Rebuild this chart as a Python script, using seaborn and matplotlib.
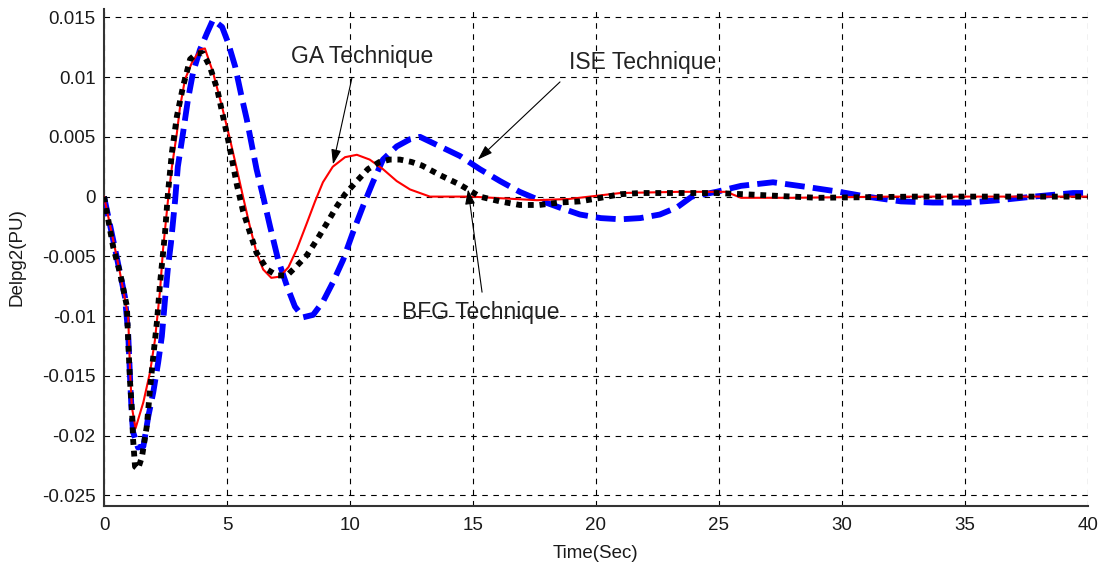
import matplotlib
matplotlib.use("Agg")
import matplotlib.pyplot as plt
import seaborn as sns
import pandas as pd

# ----------------------------------------------------------
# data (time in s, Delpg2 in PU)
# ----------------------------------------------------------

ga_time = [0, 0.45, 0.65, 0.98, 1.06, 1.13, 1.28, 1.6, 1.87, 2.07, 2.28, 2.4,
           2.6, 2.76, 2.96, 3.09, 3.29, 3.57, 3.9, 4.1, 4.43, 4.8, 5.12, 5.4,
           5.65, 5.93, 6.2, 6.47, 6.8, 7.15, 7.5, 7.84, 8.25, 8.58, 8.9,
           9.3, 9.8, 10.28, 10.8, 11.34, 11.9, 12.44, 13.25, 14.9, 17.6, 18.9,
           21.0, 23.4, 25.3, 25.9, 28.0, 32.0, 36.0, 40.0]
ga_delpg = [0, -0.0044, -0.0064, -0.0100, -0.0147, -0.0176, -0.0194, -0.0172,
            -0.0147, -0.0120, -0.0078, -0.0044, -0.0003, 0.0025, 0.0053, 0.0075,
            0.0098, 0.0112, 0.0123, 0.0124, 0.0104, 0.0075, 0.0048, 0.0023,
            0.0, -0.0025, -0.0047, -0.0061, -0.0068, -0.0067, -0.0059,
            -0.0044, -0.0022, -0.0004, 0.0012, 0.0025, 0.0033, 0.0035, 0.0031,
            0.0023, 0.0013, 0.0006, 0.0, 0.0, -0.0003, -0.0002, 0.0003, 0.0004,
            0.0004, -0.0001, -0.0001, 0.0, 0.0, 0.0]

bfg_time = [0, 0.37, 0.65, 0.93, 0.98, 1.06, 1.14, 1.18, 1.26, 1.38, 1.54, 1.74,
            1.87, 2.0, 2.15, 2.28, 2.4, 2.48, 2.6, 2.76, 2.96, 3.21, 3.5, 3.78,
            4.02, 4.3, 4.6, 4.84, 5.04, 5.25, 5.4, 5.65, 5.93, 6.2, 6.63, 7.03,
            7.44, 7.84, 8.25, 8.66, 9.07, 9.47, 9.8, 10.28, 10.73, 11.2, 11.63,
            12.03, 12.5, 12.93, 13.66, 14.47, 15.28, 16.1, 16.9, 17.7, 18.5,
            19.35, 20.2, 21.0, 21.8, 22.6, 23.4, 24.9, 26.0, 29.0, 33.0, 37.0, 40.0]
bfg_delpg = [0, -0.0042, -0.0064, -0.0092, -0.0120, -0.0156, -0.0180, -0.0203,
             -0.0226, -0.0228, -0.0218, -0.0192, -0.0161, -0.0134, -0.0105,
             -0.0072, -0.0047, -0.0030, 0.0003, 0.0037, 0.0067, 0.0092, 0.0115,
             0.0120, 0.0120, 0.0109, 0.0090, 0.0067, 0.0048, 0.0026, 0.0010,
             -0.0012, -0.0030, -0.0047, -0.0061, -0.0066, -0.0066, -0.0058,
             -0.0049, -0.0036, -0.0022, -0.0008, 0.0002, 0.0013, 0.0023, 0.0029,
             0.0031, 0.0031, 0.0029, 0.0026, 0.0018, 0.0010, 0.0, -0.0004,
             -0.0007, -0.0007, -0.0005, -0.0004, -0.0001, 0.0002, 0.0003, 0.0003,
             0.0003, 0.0003, 0.0002, -0.0001, 0.0, 0.0, 0.0]

ise_time = [0, 0.45, 0.85, 0.98, 1.06, 1.13, 1.18, 1.38, 1.6, 1.8, 2.0, 2.2,
            2.35, 2.48, 2.6, 2.72, 2.89, 3.0, 3.21, 3.41, 3.62, 3.9, 4.19, 4.43,
            4.8, 5.04, 5.33, 5.6, 5.8, 6.2, 6.47, 6.75, 7.08, 7.44, 7.76, 8.1,
            8.5, 8.9, 9.3, 9.72, 10.12, 10.53, 10.93, 11.34, 11.9, 12.44, 12.85,
            13.66, 14.47, 15.28, 16.1, 16.9, 17.7, 18.5, 19.35, 20.2, 21.0, 21.8,
            22.6, 23.3, 23.9, 24.9, 25.9, 27.2, 28.6, 29.9, 31.0, 32.4, 33.7,
            35.1, 36.4, 37.8, 39.4, 40.0]
ise_delpg = [0, -0.0044, -0.0084, -0.0114, -0.0153, -0.0184, -0.0197, -0.0210,
             -0.0209, -0.0184, -0.0164, -0.0139, -0.0117, -0.0086, -0.0059,
             -0.0039, -0.0003, 0.0025, 0.0053, 0.0081, 0.0104, 0.0123, 0.0137,
             0.0148, 0.0142, 0.0129, 0.0109, 0.0083, 0.0065, 0.0023, 0.0,
             -0.0025, -0.0053, -0.0075, -0.0092, -0.0101, -0.0099, -0.0088,
             -0.0072, -0.0053, -0.0030, -0.0008, 0.0012, 0.0031, 0.0042, 0.0048,
             0.0050, 0.0042, 0.0034, 0.0023, 0.0013, 0.0004, -0.0003, -0.0009,
             -0.0015, -0.0018, -0.0019, -0.0018, -0.0015, -0.0009, 0.0, 0.0004,
             0.0009, 0.0012, 0.0008, 0.0004, 0.0, -0.0004, -0.0005, -0.0005,
             -0.0003, 0.0, 0.0003, 0.0003]

x_ticks = [0, 5, 10, 15, 20, 25, 30, 35, 40]
y_ticks = [-0.025, -0.02, -0.015, -0.01, -0.005, 0, 0.005, 0.01, 0.015]
y_tick_labels = ["-0.025", "-0.02", "-0.015", "-0.01", "-0.005", "0",
                 "0.005", "0.01", "0.015"]


def main():
    sns.set_style("white")
    plt.rcParams['font.family'] = ['Liberation Sans', 'DejaVu Sans']

    fig = plt.figure(figsize=(11.01, 5.65), dpi=100)
    ax = fig.add_axes([0.0945, 0.1044, 0.8935, 0.8796])

    ga = pd.DataFrame({"t": ga_time, "v": ga_delpg})
    bfg = pd.DataFrame({"t": bfg_time, "v": bfg_delpg})
    ise = pd.DataFrame({"t": ise_time, "v": ise_delpg})

    sns.lineplot(data=ise, x="t", y="v", ax=ax, color="#0000ff", lw=4.2,
                 zorder=3)
    ax.lines[-1].set_dashes([3.4, 1.4])
    ax.lines[-1].set_dash_capstyle("butt")
    sns.lineplot(data=ga, x="t", y="v", ax=ax, color="#ff0000", lw=1.5,
                 zorder=4)
    sns.lineplot(data=bfg, x="t", y="v", ax=ax, color="black", lw=4.2,
                 zorder=5)
    ax.lines[-1].set_dashes([1.0, 1.0])
    ax.lines[-1].set_dash_capstyle("butt")

    ax.set_xlim(0, 40)
    ax.set_ylim(-0.0259, 0.0157)
    ax.set_xticks(x_ticks)
    ax.set_xticklabels([str(t) for t in x_ticks])
    ax.set_yticks(y_ticks)
    ax.set_yticklabels(y_tick_labels)
    ax.tick_params(direction="in", length=5, width=1, labelsize=13.5,
                   colors="#333333", labelcolor="#1a1a1a")
    ax.tick_params(axis="x", pad=8)
    ax.tick_params(axis="y", pad=6)
    ax.grid(True, color="black", lw=0.8, linestyle=(0, (5, 5)))
    for side in ("top", "right"):
        ax.spines[side].set_visible(False)
    for side in ("left", "bottom"):
        ax.spines[side].set_color("#333333")
        ax.spines[side].set_linewidth(1.5)

    ax.set_xlabel("Time(Sec)", fontsize=13.5, color="#1a1a1a", labelpad=8)
    ax.set_ylabel("Delpg2(PU)", fontsize=13.5, color="#1a1a1a", labelpad=12)

    arrow = dict(arrowstyle="-|>,head_length=0.9,head_width=0.3",
                 color="black", lw=0.8, shrinkA=0, shrinkB=0)
    ax.annotate("", xy=(9.31, 0.0027), xytext=(10.08, 0.00995),
                arrowprops=arrow, zorder=6)
    ax.text(10.49, 0.0117, "GA Technique", fontsize=16.5, color="#222222",
            ha="center", va="center")
    ax.annotate("", xy=(15.2, 0.0031), xytext=(18.54, 0.0096),
                arrowprops=arrow, zorder=6)
    ax.text(21.9, 0.0112, "ISE Technique", fontsize=16.5, color="#222222",
            ha="center", va="center")
    ax.annotate("", xy=(14.8, 0.0006), xytext=(15.37, -0.0080),
                arrowprops=arrow, zorder=6)
    ax.text(15.33, -0.0097, "BFG Technique", fontsize=16.5, color="#222222",
            ha="center", va="center")

    fig.savefig("out.png", dpi=100)


if __name__ == '__main__':
    main()
